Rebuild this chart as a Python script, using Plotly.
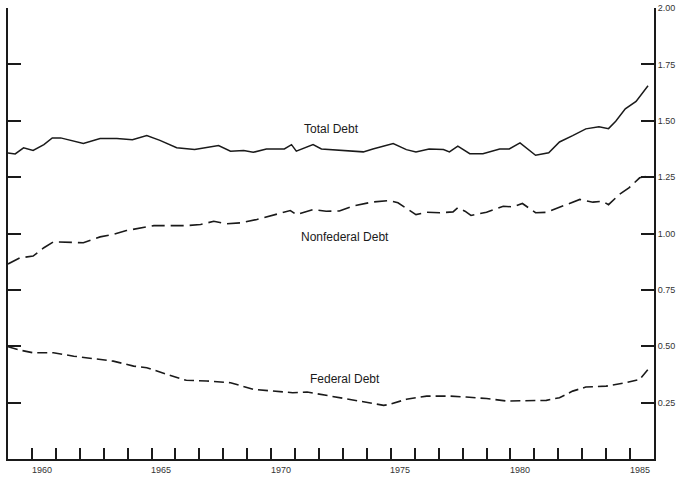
import plotly.graph_objects as go

# ---- data (ratio to GNP) ----
total_years = [1959.0, 1959.3, 1959.65, 1960.05, 1960.5, 1960.85, 1961.2, 1961.6, 1962.15, 1962.85,
               1963.55, 1964.2, 1964.8, 1965.35, 1966.05, 1966.8, 1967.8, 1968.3, 1968.85, 1969.25,
               1969.8, 1970.55, 1970.85, 1971.05, 1971.75, 1972.1, 1972.85, 1973.85, 1974.25, 1975.1,
               1975.65, 1976.05, 1976.6, 1977.2, 1977.45, 1977.8, 1978.3, 1978.85, 1979.55, 1979.95,
               1980.4, 1980.65, 1981.05, 1981.6, 1982.05, 1982.6, 1983.15, 1983.7, 1984.1, 1984.4,
               1984.8, 1985.25, 1985.75]
total_debt = [1.357, 1.353, 1.380, 1.368, 1.394, 1.424, 1.424, 1.413, 1.399, 1.421,
              1.421, 1.416, 1.434, 1.413, 1.380, 1.372, 1.390, 1.365, 1.368, 1.360,
              1.375, 1.375, 1.394, 1.365, 1.394, 1.375, 1.370, 1.362, 1.375, 1.399,
              1.372, 1.362, 1.375, 1.372, 1.362, 1.387, 1.354, 1.354, 1.375, 1.375,
              1.402, 1.380, 1.347, 1.358, 1.406, 1.434, 1.464, 1.473, 1.465, 1.498,
              1.553, 1.586, 1.655]

nonfed_years = [1959.0, 1959.5, 1960.05, 1960.5, 1960.9, 1961.75, 1962.15, 1962.85, 1963.4, 1963.95,
                1964.5, 1965.1, 1965.65, 1966.45, 1967.05, 1967.6, 1968.15, 1968.7, 1969.4, 1969.95,
                1970.8, 1971.05, 1971.75, 1972.3, 1972.85, 1973.4, 1974.25, 1974.95, 1975.3, 1976.05,
                1976.5, 1977.05, 1977.6, 1977.8, 1978.1, 1978.35, 1979.0, 1979.7, 1980.1, 1980.5,
                1981.05, 1981.5, 1982.2, 1982.9, 1983.45, 1983.85, 1984.1, 1984.55, 1984.95, 1985.4,
                1985.75]
nonfederal_debt = [0.865, 0.892, 0.900, 0.937, 0.963, 0.959, 0.959, 0.985, 0.996, 1.013,
                   1.025, 1.035, 1.035, 1.035, 1.040, 1.054, 1.043, 1.047, 1.062, 1.077,
                   1.102, 1.084, 1.106, 1.099, 1.100, 1.121, 1.140, 1.146, 1.136, 1.084,
                   1.094, 1.092, 1.096, 1.114, 1.099, 1.080, 1.094, 1.121, 1.118, 1.133,
                   1.092, 1.094, 1.124, 1.151, 1.139, 1.143, 1.128, 1.173, 1.202, 1.247,
                   1.255]

fed_years = [1959.0, 1959.5, 1960.05, 1960.9, 1961.75, 1962.55, 1963.4, 1964.25, 1964.8, 1965.65,
             1966.45, 1967.3, 1968.3, 1969.25, 1970.25, 1970.9, 1971.5, 1972.3, 1972.85, 1973.7,
             1974.7, 1974.95, 1975.65, 1976.5, 1977.45, 1978.15, 1979.0, 1979.85, 1980.65, 1981.5,
             1982.05, 1982.6, 1983.15, 1984.0, 1984.8, 1985.4, 1985.75]
federal_debt = [0.498, 0.483, 0.471, 0.471, 0.456, 0.445, 0.434, 0.412, 0.405, 0.375,
                0.349, 0.346, 0.338, 0.309, 0.301, 0.294, 0.297, 0.282, 0.270, 0.257,
                0.238, 0.242, 0.265, 0.279, 0.279, 0.275, 0.268, 0.257, 0.260, 0.260,
                0.272, 0.301, 0.319, 0.323, 0.338, 0.353, 0.397]

x_tick_years = list(range(1960, 1986))
x_label_years = [1960, 1965, 1970, 1975, 1980, 1985]
y_tick_values = [0.25, 0.50, 0.75, 1.00, 1.25, 1.50, 1.75, 2.00]
y_tick_labels = ["0.25", "0.50", "0.75", "1.00", "1.25", "1.50", "1.75", "2.00"]

series_labels = ["Total Debt", "Nonfederal Debt", "Federal Debt"]
label_x = [1972.5, 1973.1, 1973.1]
label_y = [1.462, 0.986, 0.353]

FONT = "Liberation Sans, Arial, Helvetica, sans-serif"
INK = "#1a1a1a"
X_RANGE = [1959, 1986]

fig = go.Figure()
fig.add_trace(go.Scatter(x=total_years, y=total_debt, mode="lines",
                         line=dict(color=INK, width=1.5), name="Total Debt"))
fig.add_trace(go.Scatter(x=nonfed_years, y=nonfederal_debt, mode="lines",
                         line=dict(color=INK, width=1.6, dash="13px,6px"), name="Nonfederal Debt"))
fig.add_trace(go.Scatter(x=fed_years, y=federal_debt, mode="lines",
                         line=dict(color=INK, width=1.6, dash="10px,5px"), name="Federal Debt"))

for txt, lx, ly in zip(series_labels, label_x, label_y):
    fig.add_annotation(x=lx, y=ly, text=txt, showarrow=False,
                       font=dict(family=FONT, size=12, color=INK))

# year labels under the axis, centred within each labelled year
for yr in x_label_years:
    fig.add_annotation(x=yr + 0.4, y=0, xref="x", yref="y", text=str(yr),
                       showarrow=False, yanchor="top", yshift=-4,
                       font=dict(family=FONT, size=9, color="#333"))

fig.update_layout(
    width=681, height=479,
    margin=dict(l=8, r=27, t=8, b=20, autoexpand=False),
    paper_bgcolor="white", plot_bgcolor="white",
    showlegend=False,
    font=dict(family=FONT, color=INK),
    xaxis=dict(
        range=X_RANGE, showgrid=False, zeroline=False,
        showline=True, linecolor=INK, linewidth=2,
        tickvals=x_tick_years, showticklabels=False,
        ticks="inside", ticklen=11, tickwidth=1.5, tickcolor=INK,
    ),
    yaxis=dict(
        range=[0, 2.0], side="right", showgrid=False, zeroline=False,
        showline=True, linecolor=INK, linewidth=2, mirror="ticks",
        tickvals=y_tick_values, ticktext=y_tick_labels,
        ticks="inside", ticklen=13, tickwidth=1.5, tickcolor=INK,
        tickfont=dict(size=9, color="#333"),
    ),
)

fig.write_html("out.html", config={"displayModeBar": False},
               post_script="document.body.style.margin='0px';")
